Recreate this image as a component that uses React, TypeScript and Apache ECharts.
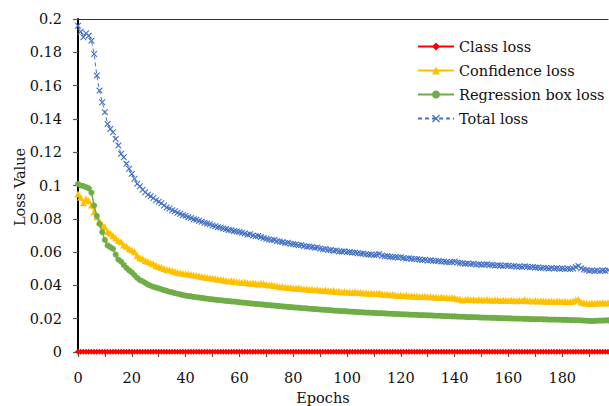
import React, { useEffect, useRef } from "react";
import * as echarts from "echarts";

const seriesNames = ["Class loss", "Confidence loss", "Regression box loss", "Total loss"];
const yTicks = [0, 0.02, 0.04, 0.06, 0.08, 0.1, 0.12, 0.14, 0.16, 0.18, 0.2];

// epochs 0..197 (one value per epoch)
const classLoss = [
  0.0002, 0.0002, 0.0001, 0.0002, 0.0001, 0.0002, 0.0001, 0.0001, 0.0002, 0.0001,
  0.0001, 0.0002, 0.0001, 0.0001, 0.0002, 0.0001, 0.0001, 0.0001, 0.0002, 0.0001,
  0.0001, 0.0001, 0.0002, 0.0001, 0.0001, 0.0001, 0.0001, 0.0002, 0.0001, 0.0001,
  0.0001, 0.0001, 0.0001, 0.0002, 0.0001, 0.0001, 0.0001, 0.0001, 0.0001, 0.0002,
  0.0001, 0.0001, 0.0001, 0.0001, 0.0001, 0.0001, 0.0002, 0.0001, 0.0001, 0.0001,
  0.0001, 0.0001, 0.0001, 0.0001, 0.0002, 0.0001, 0.0001, 0.0001, 0.0001, 0.0001,
  0.0001, 0.0001, 0.0001, 0.0001, 0.0001, 0.0002, 0.0001, 0.0001, 0.0001, 0.0001,
  0.0001, 0.0001, 0.0001, 0.0001, 0.0001, 0.0001, 0.0001, 0.0002, 0.0001, 0.0001,
  0.0001, 0.0001, 0.0001, 0.0001, 0.0001, 0.0001, 0.0001, 0.0001, 0.0001, 0.0001,
  0.0001, 0.0001, 0.0001, 0.0001, 0.0001, 0.0001, 0.0001, 0.0001, 0.0001, 0.0001,
  0.0001, 0.0001, 0.0001, 0.0001, 0.0001, 0.0001, 0.0001, 0.0001, 0.0001, 0.0001,
  0.0001, 0.0001, 0.0001, 0.0001, 0.0001, 0.0001, 0.0001, 0.0001, 0.0001, 0.0001,
  0.0001, 0.0001, 0.0001, 0.0001, 0.0001, 0.0001, 0.0001, 0.0001, 0.0001, 0.0001,
  0.0001, 0.0001, 0.0001, 0.0001, 0.0001, 0.0001, 0.0001, 0.0001, 0.0001, 0.0001,
  0.0001, 0.0001, 0.0001, 0.0001, 0.0001, 0.0001, 0.0001, 0.0001, 0.0001, 0.0001,
  0.0001, 0.0001, 0.0001, 0.0001, 0.0001, 0.0001, 0.0001, 0.0001, 0.0001, 0.0001,
  0.0001, 0.0001, 0.0001, 0.0001, 0.0001, 0.0001, 0.0001, 0.0001, 0.0001, 0.0001,
  0.0001, 0.0001, 0.0001, 0.0001, 0.0001, 0.0001, 0.0001, 0.0001, 0.0001, 0.0001,
  0.0001, 0.0001, 0.0001, 0.0001, 0.0001, 0.0001, 0.0001, 0.0001, 0.0001, 0.0001,
  0.0001, 0.0001, 0.0001, 0.0001, 0.0001, 0.0001, 0.0001, 0.0001,
];

const confidenceLoss = [
  0.0949, 0.0930, 0.0897, 0.0920, 0.0909, 0.0883, 0.0843, 0.0813, 0.0785, 0.0765,
  0.0753, 0.0723, 0.0713, 0.0700, 0.0685, 0.0670, 0.0662, 0.0643, 0.0635, 0.0620,
  0.0613, 0.0602, 0.0580, 0.0566, 0.0560, 0.0550, 0.0543, 0.0535, 0.0530, 0.0520,
  0.0513, 0.0508, 0.0502, 0.0496, 0.0493, 0.0488, 0.0484, 0.0478, 0.0476, 0.0472,
  0.0470, 0.0468, 0.0465, 0.0462, 0.0460, 0.0456, 0.0453, 0.0450, 0.0447, 0.0446,
  0.0443, 0.0440, 0.0437, 0.0436, 0.0432, 0.0430, 0.0426, 0.0428, 0.0424, 0.0422,
  0.0421, 0.0419, 0.0420, 0.0416, 0.0413, 0.0414, 0.0411, 0.0409, 0.0412, 0.0410,
  0.0405, 0.0402, 0.0404, 0.0400, 0.0396, 0.0392, 0.0394, 0.0390, 0.0387, 0.0388,
  0.0385, 0.0383, 0.0386, 0.0381, 0.0378, 0.0380, 0.0376, 0.0377, 0.0374, 0.0375,
  0.0371, 0.0370, 0.0372, 0.0368, 0.0366, 0.0369, 0.0364, 0.0365, 0.0361, 0.0363,
  0.0360, 0.0361, 0.0358, 0.0362, 0.0357, 0.0359, 0.0355, 0.0356, 0.0353, 0.0354,
  0.0351, 0.0352, 0.0354, 0.0349, 0.0346, 0.0348, 0.0344, 0.0345, 0.0342, 0.0340,
  0.0342, 0.0339, 0.0341, 0.0337, 0.0338, 0.0335, 0.0337, 0.0334, 0.0333, 0.0335,
  0.0332, 0.0333, 0.0330, 0.0331, 0.0328, 0.0330, 0.0327, 0.0328, 0.0325, 0.0327,
  0.0324, 0.0320, 0.0318, 0.0313, 0.0315, 0.0317, 0.0314, 0.0316, 0.0313, 0.0315,
  0.0314, 0.0312, 0.0315, 0.0313, 0.0311, 0.0314, 0.0312, 0.0310, 0.0313, 0.0311,
  0.0309, 0.0312, 0.0310, 0.0308, 0.0311, 0.0309, 0.0316, 0.0308, 0.0310, 0.0307,
  0.0309, 0.0306, 0.0308, 0.0307, 0.0305, 0.0307, 0.0306, 0.0304, 0.0306, 0.0305,
  0.0303, 0.0305, 0.0302, 0.0304, 0.0306, 0.0313, 0.0316, 0.0300, 0.0296, 0.0294,
  0.0292, 0.0295, 0.0293, 0.0296, 0.0294, 0.0297, 0.0295, 0.0296,
];

const regressionLoss = [
  0.1009, 0.1000, 0.0997, 0.0990, 0.0983, 0.0957, 0.0880, 0.0817, 0.0770, 0.0720,
  0.0673, 0.0640, 0.0630, 0.0620, 0.0585, 0.0555, 0.0543, 0.0523, 0.0505, 0.0490,
  0.0478, 0.0462, 0.0445, 0.0432, 0.0425, 0.0415, 0.0405, 0.0398, 0.0392, 0.0387,
  0.0382, 0.0377, 0.0372, 0.0367, 0.0362, 0.0358, 0.0354, 0.0350, 0.0346, 0.0342,
  0.0339, 0.0336, 0.0334, 0.0331, 0.0329, 0.0327, 0.0325, 0.0322, 0.0320, 0.0318,
  0.0316, 0.0314, 0.0312, 0.0311, 0.0309, 0.0307, 0.0306, 0.0304, 0.0303, 0.0301,
  0.0299, 0.0297, 0.0296, 0.0294, 0.0292, 0.0291, 0.0289, 0.0288, 0.0286, 0.0285,
  0.0283, 0.0281, 0.0280, 0.0279, 0.0277, 0.0276, 0.0274, 0.0273, 0.0271, 0.0270,
  0.0268, 0.0267, 0.0266, 0.0264, 0.0263, 0.0262, 0.0260, 0.0259, 0.0258, 0.0257,
  0.0255, 0.0254, 0.0253, 0.0252, 0.0251, 0.0249, 0.0248, 0.0247, 0.0246, 0.0245,
  0.0244, 0.0243, 0.0242, 0.0241, 0.0240, 0.0239, 0.0238, 0.0237, 0.0237, 0.0236,
  0.0235, 0.0234, 0.0233, 0.0233, 0.0232, 0.0231, 0.0230, 0.0229, 0.0229, 0.0228,
  0.0227, 0.0226, 0.0226, 0.0225, 0.0224, 0.0224, 0.0223, 0.0222, 0.0222, 0.0221,
  0.0220, 0.0220, 0.0219, 0.0218, 0.0218, 0.0217, 0.0216, 0.0216, 0.0215, 0.0214,
  0.0214, 0.0213, 0.0212, 0.0212, 0.0211, 0.0210, 0.0210, 0.0209, 0.0209, 0.0208,
  0.0207, 0.0207, 0.0206, 0.0206, 0.0205, 0.0205, 0.0204, 0.0204, 0.0203, 0.0203,
  0.0202, 0.0202, 0.0201, 0.0201, 0.0200, 0.0200, 0.0199, 0.0199, 0.0198, 0.0198,
  0.0197, 0.0197, 0.0197, 0.0196, 0.0196, 0.0195, 0.0195, 0.0195, 0.0194, 0.0194,
  0.0193, 0.0193, 0.0193, 0.0192, 0.0192, 0.0191, 0.0191, 0.0190, 0.0189, 0.0188,
  0.0187, 0.0186, 0.0187, 0.0188, 0.0189, 0.0189, 0.0190, 0.0190,
];

const totalLoss = [
  0.1960, 0.1924, 0.1890, 0.1914, 0.1900, 0.1870, 0.1790, 0.1660, 0.1570, 0.1500,
  0.1440, 0.1370, 0.1340, 0.1320, 0.1280, 0.1240, 0.1190, 0.1170, 0.1130, 0.1100,
  0.1070, 0.1040, 0.1010, 0.0995, 0.0975, 0.0960, 0.0945, 0.0935, 0.0925, 0.0912,
  0.0902, 0.0893, 0.0880, 0.0868, 0.0862, 0.0851, 0.0845, 0.0836, 0.0830, 0.0822,
  0.0818, 0.0810, 0.0805, 0.0797, 0.0795, 0.0788, 0.0782, 0.0776, 0.0772, 0.0768,
  0.0760, 0.0755, 0.0750, 0.0748, 0.0741, 0.0738, 0.0733, 0.0731, 0.0726, 0.0724,
  0.0720, 0.0716, 0.0712, 0.0705, 0.0707, 0.0700, 0.0695, 0.0697, 0.0690, 0.0684,
  0.0680, 0.0676, 0.0672, 0.0673, 0.0665, 0.0664, 0.0660, 0.0655, 0.0656, 0.0650,
  0.0648, 0.0646, 0.0641, 0.0643, 0.0637, 0.0633, 0.0634, 0.0630, 0.0626, 0.0628,
  0.0622, 0.0617, 0.0619, 0.0613, 0.0612, 0.0608, 0.0610, 0.0604, 0.0603, 0.0605,
  0.0600, 0.0600, 0.0597, 0.0598, 0.0593, 0.0591, 0.0592, 0.0587, 0.0585, 0.0586,
  0.0582, 0.0584, 0.0589, 0.0578, 0.0575, 0.0576, 0.0572, 0.0570, 0.0571, 0.0567,
  0.0569, 0.0565, 0.0562, 0.0563, 0.0560, 0.0558, 0.0559, 0.0555, 0.0553, 0.0554,
  0.0550, 0.0551, 0.0548, 0.0546, 0.0547, 0.0543, 0.0544, 0.0541, 0.0539, 0.0540,
  0.0543, 0.0538, 0.0535, 0.0533, 0.0530, 0.0531, 0.0528, 0.0530, 0.0526, 0.0527,
  0.0524, 0.0525, 0.0527, 0.0522, 0.0523, 0.0520, 0.0521, 0.0519, 0.0517, 0.0520,
  0.0518, 0.0515, 0.0516, 0.0513, 0.0514, 0.0511, 0.0515, 0.0512, 0.0509, 0.0510,
  0.0507, 0.0508, 0.0505, 0.0506, 0.0504, 0.0502, 0.0504, 0.0501, 0.0503, 0.0500,
  0.0502, 0.0499, 0.0501, 0.0498, 0.0502, 0.0510, 0.0516, 0.0503, 0.0495, 0.0492,
  0.0488, 0.0490, 0.0487, 0.0489, 0.0486, 0.0490, 0.0488, 0.0491,
];

const FONT = "DejaVu Serif";
const xSymbol =
  "path://M0,1.2L1.2,0L5,3.8L8.8,0L10,1.2L6.2,5L10,8.8L8.8,10L5,6.2L1.2,10L0,8.8L3.8,5Z";

const toPairs = (arr: number[]) => arr.map((v, i) => [i, v]);

export default function App() {
  const ref = useRef<HTMLDivElement>(null);
  useEffect(() => {
    if (!ref.current) return;
    const chart = echarts.init(ref.current, undefined, { renderer: "svg" });
    const common = {
      type: "line",
      showAllSymbol: true,
      showSymbol: true,
      smooth: false,
    };
    chart.setOption({
      animation: false,
      textStyle: { fontFamily: FONT },
      grid: { left: 78, top: 19, right: 1, bottom: 54, containLabel: false },
      legend: {
        orient: "vertical",
        left: 417,
        top: 39,
        padding: 0,
        itemWidth: 36,
        itemHeight: 10,
        itemGap: 9,
        textStyle: { fontFamily: FONT, fontSize: 14.5, color: "#111", padding: [0, 0, 0, 0] },
        data: seriesNames,
      },
      xAxis: [
        {
          type: "value",
          min: 0,
          max: 197,
          interval: 10,
          axisLine: { show: true, lineStyle: { color: "#000", width: 1.5 } },
          axisTick: { show: true, inside: false, length: 5, lineStyle: { color: "#555", width: 1.2 } },
          axisLabel: {
            margin: 18,
            fontFamily: FONT,
            fontSize: 14.5,
            color: "#111",
            showMaxLabel: false,
            formatter: (v: number) => (v % 20 === 0 ? String(v) : ""),
          },
          splitLine: { show: false },
        },
        {
          type: "value",
          position: "top",
          min: 0,
          max: 197,
          axisLine: { show: true, lineStyle: { color: "#333", width: 1.2 } },
          axisTick: { show: false },
          axisLabel: { show: false },
          splitLine: { show: false },
        },
      ],
      yAxis: {
        type: "value",
        min: yTicks[0],
        max: yTicks[yTicks.length - 1],
        interval: 0.02,
        axisLine: { show: true, lineStyle: { color: "#000", width: 2 } },
        axisTick: { show: true, length: 5, lineStyle: { color: "#555", width: 1.2 } },
        axisLabel: {
          margin: 16,
          fontFamily: FONT,
          fontSize: 14.5,
          color: "#111",
          formatter: (v: number) => String(+v.toFixed(2)),
        },
        splitLine: { show: false },
      },
      graphic: [
        {
          type: "text",
          x: 20,
          y: 187,
          rotation: Math.PI / 2,
          style: {
            text: "Loss Value",
            fontFamily: FONT,
            fontSize: 14.5,
            fill: "#111",
            textAlign: "center",
            textVerticalAlign: "middle",
          },
        },
        {
          type: "text",
          x: 323,
          y: 398,
          style: {
            text: "Epochs",
            fontFamily: FONT,
            fontSize: 14.5,
            fill: "#111",
            textAlign: "center",
            textVerticalAlign: "middle",
          },
        },
      ],
      series: [
        {
          ...common,
          name: seriesNames[0],
          data: toPairs(classLoss),
          symbol: "diamond",
          symbolSize: 6,
          itemStyle: { color: "#FF0000" },
          lineStyle: { color: "#FF0000", width: 2 },
          z: 2,
        },
        {
          ...common,
          name: seriesNames[1],
          data: toPairs(confidenceLoss),
          symbol: "triangle",
          symbolSize: 7,
          itemStyle: { color: "#FFC000" },
          lineStyle: { color: "#FFC000", width: 1.5 },
          z: 3,
        },
        {
          ...common,
          name: seriesNames[2],
          data: toPairs(regressionLoss),
          symbol: "circle",
          symbolSize: 6,
          itemStyle: { color: "#70AD47" },
          lineStyle: { color: "#70AD47", width: 1.5 },
          z: 4,
        },
        {
          ...common,
          name: seriesNames[3],
          data: toPairs(totalLoss),
          symbol: xSymbol,
          symbolSize: 6.5,
          itemStyle: { color: "#4472C4" },
          lineStyle: { color: "#4472C4", width: 1, type: [4, 3] },
          z: 5,
        },
      ],
    });
    return () => chart.dispose();
  }, []);
  return (
    <div
      ref={ref}
      style={{ position: "fixed", left: 0, top: 0, width: 609, height: 406, background: "#fff" }}
    />
  );
}
